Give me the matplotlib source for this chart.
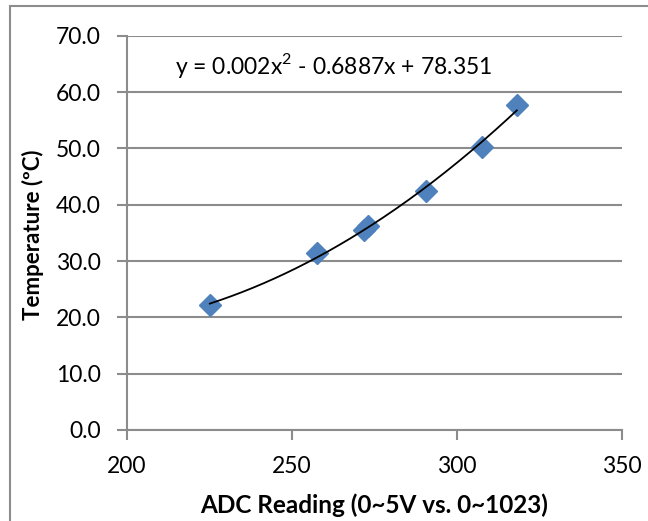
import matplotlib
matplotlib.use("Agg")
import matplotlib.pyplot as plt
import numpy as np

adc = [225.1, 257.5, 271.8, 272.9, 290.6, 307.7, 318.1]
temp = [22.1, 31.4, 35.6, 36.2, 42.4, 50.2, 57.8]
xticks = [200, 250, 300, 350]
yticks = [0, 10, 20, 30, 40, 50, 60, 70]
equation = "y = 0.002x$^{2}$ - 0.6887x + 78.351"

plt.rcParams['font.family'] = ['Lato', 'DejaVu Sans']
plt.rcParams['mathtext.fontset'] = 'custom'
plt.rcParams['mathtext.rm'] = 'Lato'

fig = plt.figure(figsize=(6.48, 5.21), dpi=100)
ax = fig.add_axes([0.196, 0.175, 0.764, 0.756])

# outer chart border
fig.patches.append(plt.Rectangle((10/648, -0.1), 1.2, 1 - 6/521 + 0.1, transform=fig.transFigure,
                                 fill=False, edgecolor='#8c8c8c', linewidth=1.5))

gray = '#8c8c8c'
ax.set_xlim(200, 350)
ax.set_ylim(0, 70)
ax.set_xticks(xticks)
ax.set_yticks(yticks)
ax.set_yticklabels([f"{v:.1f}" for v in yticks])
ax.grid(axis='y', color=gray, linewidth=1.5)
ax.set_axisbelow(True)
for s in ['top', 'right']:
    ax.spines[s].set_visible(False)
for s in ['left', 'bottom']:
    ax.spines[s].set_color(gray)
    ax.spines[s].set_linewidth(1.5)
ax.tick_params(axis='both', colors=gray, width=1.5, length=7, labelsize=16.5, labelcolor='black')
ax.tick_params(axis='x', pad=12)
ax.tick_params(axis='y', pad=12)

ax.plot(adc, temp, linestyle='none', marker='D', markersize=11.5, color='#4F81BD', zorder=3)

coef = np.polyfit(adc, temp, 2)
xs = np.linspace(min(adc), max(adc), 200)
ax.plot(xs, np.polyval(coef, xs), color='black', linewidth=1.3, zorder=4)

ax.text(0.097, 0.924, equation, transform=ax.transAxes, fontsize=16.5, va='center', ha='left')

ax.set_xlabel("ADC Reading (0~5V vs. 0~1023)", fontsize=17.5, fontweight='bold')
ax.set_ylabel("Temperature (ºC)", fontsize=16, fontweight='bold')
ax.xaxis.set_label_coords(0.499, -0.192)
ax.yaxis.set_label_coords(-0.19, 0.495)
ax.xaxis.label.set_va('center')
ax.yaxis.label.set_va('center')

fig.savefig("out.png", dpi=100)
